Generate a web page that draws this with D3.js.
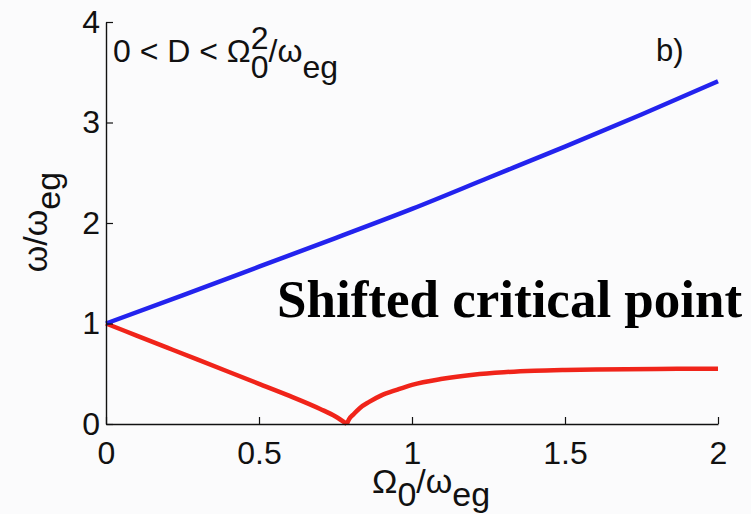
<!DOCTYPE html>
<html>
<head>
<meta charset="utf-8">
<script src="https://cdn.jsdelivr.net/npm/d3@7"></script>
<style>
  html, body { margin: 0; padding: 0; background: #fbfbfc; }
  svg { display: block; }
</style>
</head>
<body>
<svg id="chart" width="751" height="514"></svg>
<script>
// Upper (blue) branch: omega/omega_eg versus Omega_0/omega_eg
const upperX = [0, 0.25, 0.5, 0.75, 1.0, 1.25, 1.5, 1.75, 2.0];
const upperY = [1.0, 1.28, 1.565, 1.85, 2.14, 2.45, 2.76, 3.08, 3.41];

// Lower (red) branch, softening to zero at the shifted critical point
const lowerX = [0, 0.1, 0.2, 0.3, 0.4, 0.5, 0.6, 0.7, 0.75, 0.787,
                0.795, 0.81, 0.83, 0.86, 0.9, 0.95, 1.0, 1.1, 1.2, 1.3,
                1.4, 1.5, 1.6, 1.7, 1.8, 1.9, 2.0];
const lowerY = [1.0, 0.88, 0.76, 0.64, 0.52, 0.40, 0.28, 0.15, 0.075, 0.0,
                0.05, 0.1, 0.16, 0.22, 0.285, 0.34, 0.39, 0.45, 0.49, 0.515,
                0.53, 0.538, 0.543, 0.546, 0.548, 0.549, 0.55];

const xTicks = [0, 0.5, 1, 1.5, 2];
const xTickLabels = ["0", "0.5", "1", "1.5", "2"];
const yTicks = [0, 1, 2, 3, 4];
const yTickLabels = ["0", "1", "2", "3", "4"];

const svg = d3.select("#chart");
const FONT = "'Liberation Sans', Arial, Helvetica, sans-serif";
const tickFont = 32;

const x = d3.scaleLinear().domain([0, 2]).range([106, 718]);
const y = d3.scaleLinear().domain([0, 4]).range([424, 22]);

// Curves
const line = d3.line().x(d => x(d[0])).y(d => y(d[1])).curve(d3.curveMonotoneX);

const upper = upperX.map((v, i) => [v, upperY[i]]);
const lower = lowerX.map((v, i) => [v, lowerY[i]]);
const iMin = d3.minIndex(lowerY);
const lowerLeft = lower.slice(0, iMin + 1);
const lowerRight = lower.slice(iMin);

const curves = svg.append("g").attr("fill", "none")
  .attr("stroke-width", 4.5).attr("stroke-linejoin", "round").attr("stroke-linecap", "butt");
curves.append("path").attr("d", line(lowerLeft)).attr("stroke", "#f0241a");
curves.append("path").attr("d", line(lowerRight)).attr("stroke", "#f0241a");
curves.append("path").attr("d", line(upper)).attr("stroke", "#2323ee");

// Axes (left and bottom only, ticks pointing inward)
const xAxis = d3.axisBottom(x).tickValues(xTicks)
  .tickFormat((d, i) => xTickLabels[i]).tickSizeInner(-7).tickSizeOuter(0).tickPadding(17);
const yAxis = d3.axisLeft(y).tickValues(yTicks)
  .tickFormat((d, i) => yTickLabels[i]).tickSizeInner(-7).tickSizeOuter(0).tickPadding(6);

const gx = svg.append("g").attr("transform", `translate(0,${y(0)})`).call(xAxis);
const gy = svg.append("g").attr("transform", `translate(${x(0)},0)`).call(yAxis);
[gx, gy].forEach(g => {
  g.attr("font-family", FONT).attr("font-size", tickFont);
  g.selectAll("path.domain").attr("stroke", "#111").attr("stroke-width", 1.4);
  g.selectAll(".tick line").attr("stroke", "#111").attr("stroke-width", 1.2);
  g.selectAll(".tick text").attr("fill", "#111");
});

// Axis titles
const titleFont = 34;
const xt = svg.append("text").attr("x", 372).attr("y", 493)
  .attr("font-family", FONT).attr("font-size", titleFont).attr("fill", "#111");
xt.append("tspan").text("Ω");
xt.append("tspan").attr("dy", 13).text("0");
xt.append("tspan").attr("dy", -13).text("/ω");
xt.append("tspan").attr("dy", 13).text("eg");

const yt = svg.append("text").attr("transform", "translate(47,222) rotate(-90)")
  .attr("text-anchor", "middle")
  .attr("font-family", FONT).attr("font-size", titleFont).attr("fill", "#111");
yt.append("tspan").text("ω/ω");
yt.append("tspan").attr("dy", 13).text("eg");

// Parameter-range annotation
const annFont = 32;
const ann = svg.append("text").attr("x", 113).attr("y", 62)
  .attr("font-family", FONT).attr("font-size", annFont).attr("fill", "#111");
ann.append("tspan").text("0 < D < Ω");
ann.append("tspan").attr("dy", -13).text("2");
ann.append("tspan").attr("dx", -annFont * 0.556).attr("dy", 29).text("0");
ann.append("tspan").attr("dy", -16).text("/ω");
ann.append("tspan").attr("dy", 16).text("eg");

// Panel tag
svg.append("text").attr("x", 656).attr("y", 61)
  .attr("font-family", FONT).attr("font-size", 31).attr("fill", "#111").text("b)");

// Callout
svg.append("text").attr("x", 277).attr("y", 317)
  .attr("font-family", "'Liberation Serif', 'Times New Roman', serif")
  .attr("font-weight", "bold").attr("font-size", 53).attr("fill", "#000")
  .text("Shifted critical point");
</script>
</body>
</html>
